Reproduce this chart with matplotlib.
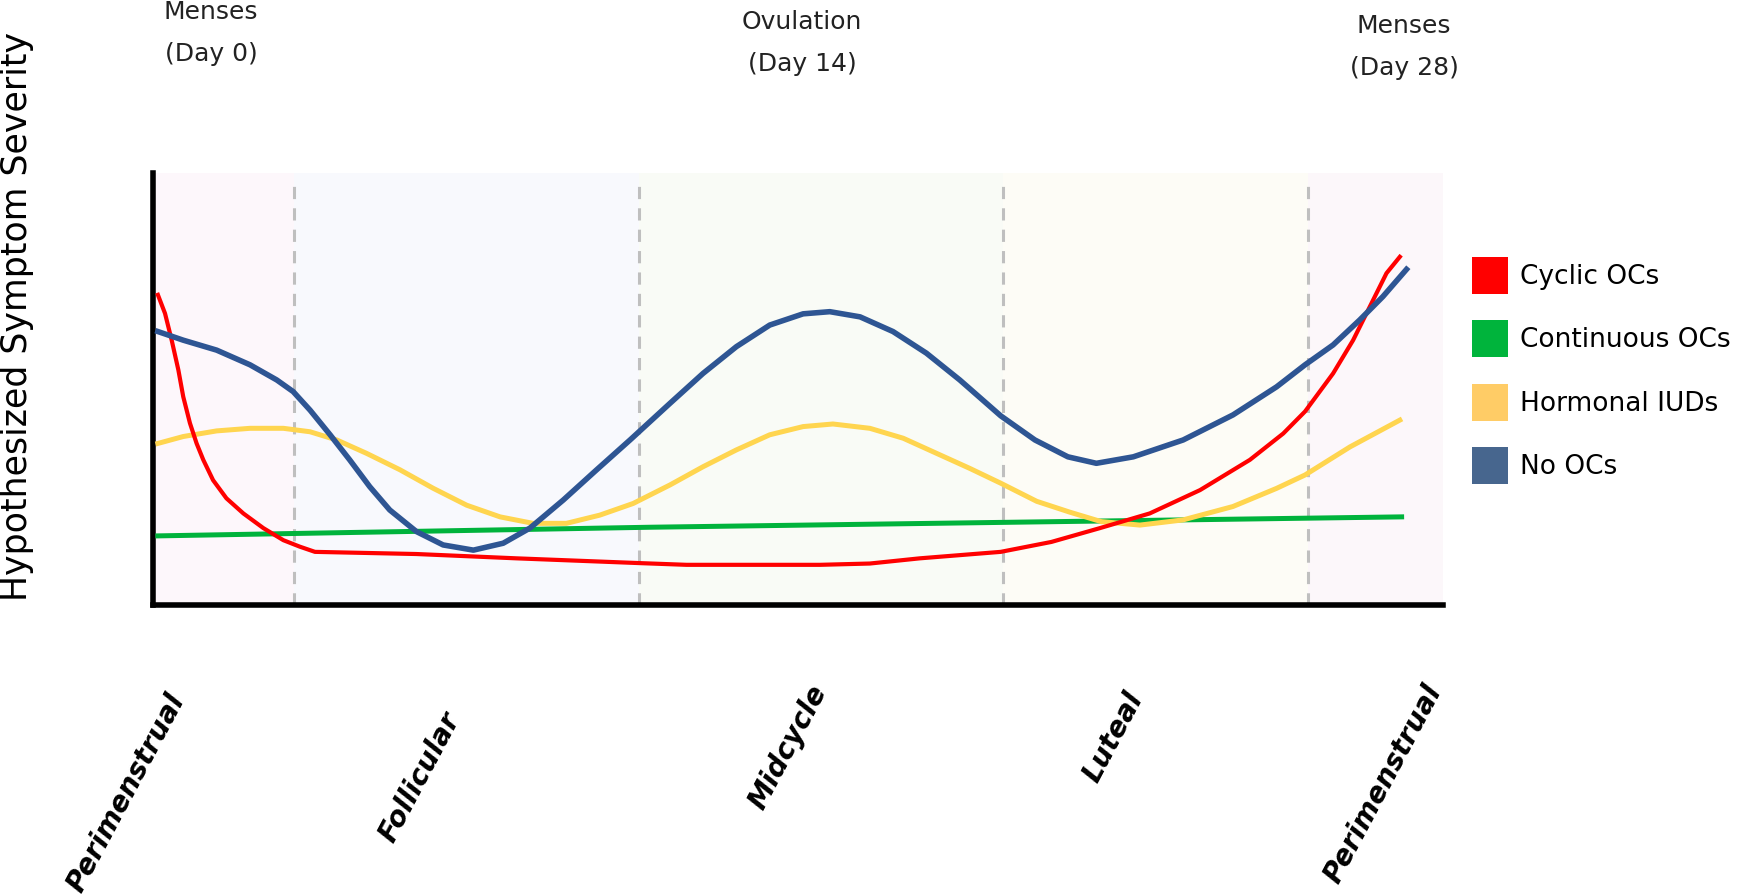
import matplotlib
matplotlib.use("Agg")
import matplotlib.pyplot as plt
from matplotlib.patches import Patch
import matplotlib.transforms as mtransforms

# # Hypothesized symptom severity across the menstrual cycle (day 0 - 28)

series_names = ["Cyclic OCs", "Continuous OCs", "Hormonal IUDs", "No OCs"]

red_days = [0.0, 0.16, 0.31, 0.46, 0.57, 0.72, 0.87, 1.02, 1.24, 1.54, 1.92, 2.37, 2.82, 3.19, 3.53,
            5.81, 8.06, 10.82, 11.88, 14.88, 16.0, 17.12, 18.94, 20.08, 21.17, 22.29, 23.42, 24.54,
            25.29, 25.78, 26.41, 26.86, 27.31, 27.61, 27.91]
red_vals = [7.18, 6.75, 6.13, 5.44, 4.82, 4.21, 3.74, 3.36, 2.89, 2.47, 2.12, 1.78, 1.50, 1.35, 1.23,
            1.18, 1.08, 0.97, 0.93, 0.93, 0.96, 1.08, 1.23, 1.46, 1.78, 2.12, 2.66, 3.36,
            3.97, 4.48, 5.36, 6.13, 7.06, 7.68, 8.06]

green_days = [0.0, 11.06, 27.95]
green_vals = [1.60, 1.80, 2.04]

yellow_days = [0.0, 0.57, 1.32, 2.07, 2.82, 3.42, 4.02, 4.69, 5.44, 6.19, 6.94, 7.69, 8.43, 9.18,
               9.93, 10.68, 11.51, 12.25, 13.0, 13.75, 14.5, 15.17, 16.0, 16.75, 17.5, 18.25, 18.94,
               19.75, 20.49, 21.2, 22.07, 23.04, 24.16, 25.14, 25.78, 26.79, 27.91]
yellow_vals = [3.74, 3.90, 4.03, 4.09, 4.09, 4.01, 3.82, 3.51, 3.13, 2.70, 2.31, 2.04, 1.89, 1.89,
               2.08, 2.35, 2.78, 3.20, 3.59, 3.94, 4.13, 4.19, 4.09, 3.86, 3.51, 3.16, 2.82,
               2.40, 2.15, 1.93, 1.85, 1.97, 2.28, 2.70, 3.01, 3.66, 4.28]

blue_days = [0.0, 0.57, 1.32, 2.07, 2.67, 3.04, 3.42, 3.87, 4.31, 4.76, 5.21, 5.81, 6.41, 7.09, 7.76,
             8.36, 9.11, 9.86, 10.61, 11.51, 12.25, 13.0, 13.75, 14.5, 15.1, 15.78, 16.52, 17.27,
             18.02, 18.94, 19.71, 20.45, 21.09, 21.92, 23.04, 24.16, 25.14, 25.78, 26.41, 27.01,
             27.53, 28.06]
blue_vals = [6.33, 6.13, 5.90, 5.56, 5.21, 4.94, 4.51, 3.94, 3.36, 2.74, 2.20, 1.70, 1.39, 1.27, 1.43,
             1.78, 2.43, 3.13, 3.82, 4.67, 5.36, 5.98, 6.48, 6.74, 6.79, 6.67, 6.33, 5.83,
             5.21, 4.38, 3.82, 3.43, 3.28, 3.43, 3.82, 4.40, 5.05, 5.56, 6.02, 6.60,
             7.14, 7.77]

phase_bounds = [3.05, 10.81, 18.99, 25.84]
phase_labels = ["Perimenstrual", "Follicular", "Midcycle", "Luteal", "Perimenstrual"]
events = ["Menses\n(Day 0)", "Ovulation\n(Day 14)", "Menses\n(Day 28)"]

line_colors = ["#ff0000", "#00b33c", "#ffd54f", "#2e5593"]
legend_colors = ["#ff0000", "#00b43c", "#ffcc66", "#47668e"]
shade_colors = ["#fdf7fb", "#f8f9fd", "#f9fbf6", "#fdfcf6", "#fcf7fa"]

W, H = 1740, 894
fig = plt.figure(figsize=(17.4, 8.94), dpi=100)
ax = fig.add_axes([153 / W, 1 - 605 / H, (1443 - 153) / W, (605 - 173) / H])
xmin, xmax = -0.11, 28.88
ax.set_xlim(xmin, xmax)
ax.set_ylim(0, 10)

# background phase shading
edges = [xmin] + phase_bounds + [xmax]
for i in range(len(edges) - 1):
    ax.axvspan(edges[i], edges[i + 1], color=shade_colors[i], lw=0, zorder=0)
for b in phase_bounds:
    ax.axvline(b, ymax=0.98, color="#bfbfbf", lw=2.2, ls=(0, (4, 3)), zorder=1)

ax.plot(green_days, green_vals, color=line_colors[1], lw=3.6, zorder=3)
ax.plot(yellow_days, yellow_vals, color=line_colors[2], lw=3.6, zorder=3, solid_joinstyle="round")
ax.plot(red_days, red_vals, color=line_colors[0], lw=3.0, zorder=4, solid_joinstyle="round")
ax.plot(blue_days, blue_vals, color=line_colors[3], lw=4.0, zorder=4, solid_joinstyle="round")

for s in ["top", "right"]:
    ax.spines[s].set_visible(False)
for s in ["left", "bottom"]:
    ax.spines[s].set_linewidth(4)
    ax.spines[s].set_color("black")
ax.set_xticks([])
ax.set_yticks([])

fig.text(17 / W, 1 - 316 / H, "Hypothesized Symptom Severity", rotation=90,
         ha="center", va="center", fontsize=25)

# phase labels under the axis
trans = mtransforms.blended_transform_factory(ax.transData, ax.transAxes)
label_x = [-0.72, 5.89, 14.16, 21.46, 27.53]
label_y = [-0.435, -0.398, -0.329, -0.306, -0.414]
for lab, lx, ly in zip(phase_labels, label_x, label_y):
    ax.text(lx, ly, lab, transform=trans, rotation=62, ha="center", va="center",
            fontsize=20, fontweight="bold", fontstyle="italic", rotation_mode="anchor")

# event annotations on top
ev_x = [211, 802, 1404]
ev_y = [33, 43, 47]
for ev, ex, ey in zip(events, ev_x, ev_y):
    fig.text(ex / W, 1 - ey / H, ev, ha="center", va="center", fontsize=18,
             linespacing=1.95, color="#222222")

handles = [Patch(facecolor=c, edgecolor="none") for c in legend_colors]
fig.legend(handles, series_names, loc="upper left", bbox_to_anchor=(1472 / W, 1 - 257 / H),
           frameon=False, fontsize=19, handlelength=1.36, handleheight=1.78,
           handletextpad=0.45, labelspacing=1.0, borderpad=0, borderaxespad=0)

fig.savefig("out.png", dpi=100)
